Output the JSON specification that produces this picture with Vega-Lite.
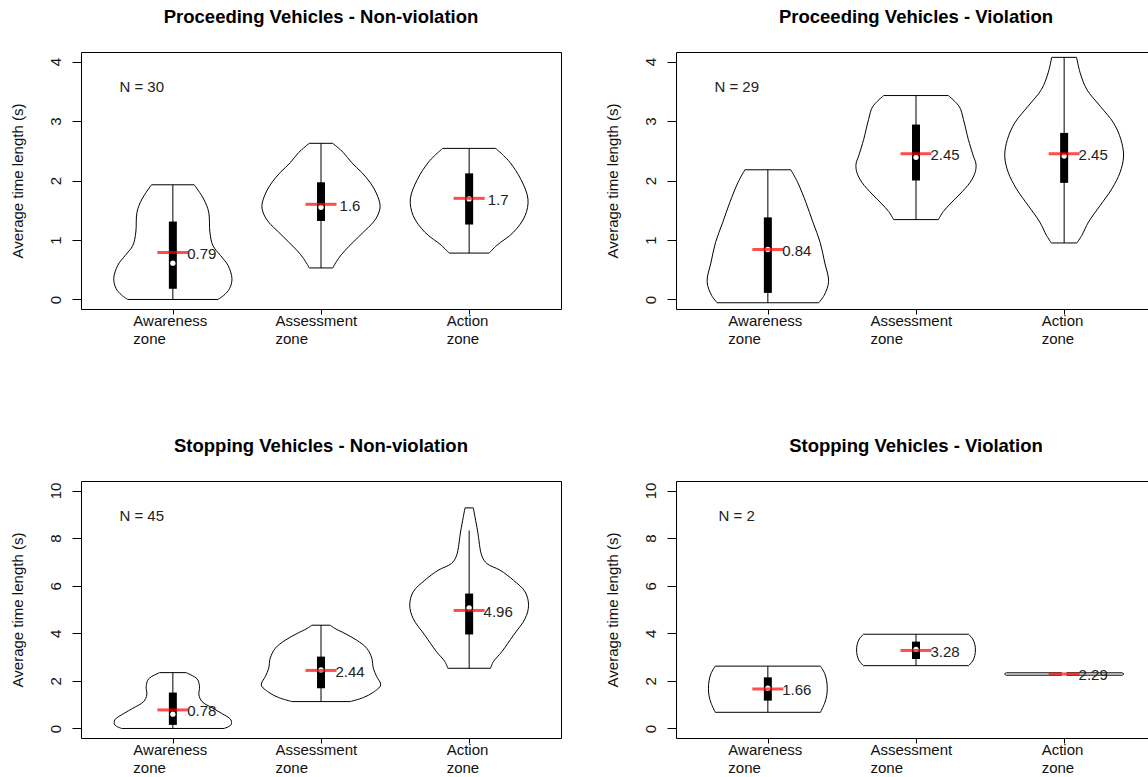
{
"$schema": "https://vega.github.io/schema/vega-lite/v6.json",
"padding": {"left": 9, "top": 7, "right": 0, "bottom": 0},
"columns": 2,
"spacing": {"row": 172, "column": 115},
"bounds": "flush",
"datasets": {
"v": [
{"p":"A","z":1,"t":0,"lo":0.696,"hi":1.304},
{"p":"A","z":1,"t":0.072,"lo":0.655,"hi":1.345},
{"p":"A","z":1,"t":0.184,"lo":0.617,"hi":1.383},
{"p":"A","z":1,"t":0.351,"lo":0.601,"hi":1.399},
{"p":"A","z":1,"t":0.574,"lo":0.628,"hi":1.372},
{"p":"A","z":1,"t":0.741,"lo":0.679,"hi":1.321},
{"p":"A","z":1,"t":0.908,"lo":0.73,"hi":1.27},
{"p":"A","z":1,"t":1.132,"lo":0.75,"hi":1.25},
{"p":"A","z":1,"t":1.466,"lo":0.758,"hi":1.242},
{"p":"A","z":1,"t":1.689,"lo":0.792,"hi":1.208},
{"p":"A","z":1,"t":1.928,"lo":0.856,"hi":1.144},
{"p":"A","z":2,"t":0.53,"lo":1.921,"hi":2.079},
{"p":"A","z":2,"t":0.686,"lo":1.883,"hi":2.117},
{"p":"A","z":2,"t":0.824,"lo":1.838,"hi":2.162},
{"p":"A","z":2,"t":0.965,"lo":1.782,"hi":2.218},
{"p":"A","z":2,"t":1.132,"lo":1.714,"hi":2.286},
{"p":"A","z":2,"t":1.299,"lo":1.647,"hi":2.353},
{"p":"A","z":2,"t":1.438,"lo":1.613,"hi":2.387},
{"p":"A","z":2,"t":1.577,"lo":1.601,"hi":2.399},
{"p":"A","z":2,"t":1.773,"lo":1.624,"hi":2.376},
{"p":"A","z":2,"t":1.968,"lo":1.669,"hi":2.331},
{"p":"A","z":2,"t":2.135,"lo":1.725,"hi":2.275},
{"p":"A","z":2,"t":2.3,"lo":1.793,"hi":2.207},
{"p":"A","z":2,"t":2.47,"lo":1.849,"hi":2.151},
{"p":"A","z":2,"t":2.625,"lo":1.921,"hi":2.079},
{"p":"A","z":3,"t":0.78,"lo":2.865,"hi":3.135},
{"p":"A","z":3,"t":0.91,"lo":2.813,"hi":3.187},
{"p":"A","z":3,"t":1.13,"lo":2.701,"hi":3.299},
{"p":"A","z":3,"t":1.41,"lo":2.622,"hi":3.378},
{"p":"A","z":3,"t":1.69,"lo":2.603,"hi":3.397},
{"p":"A","z":3,"t":2.02,"lo":2.651,"hi":3.349},
{"p":"A","z":3,"t":2.3,"lo":2.723,"hi":3.277},
{"p":"A","z":3,"t":2.42,"lo":2.768,"hi":3.232},
{"p":"A","z":3,"t":2.54,"lo":2.821,"hi":3.179},
{"p":"B","z":1,"t":-0.055,"lo":0.657,"hi":1.343},
{"p":"B","z":1,"t":0.07,"lo":0.62,"hi":1.38},
{"p":"B","z":1,"t":0.3,"lo":0.59,"hi":1.41},
{"p":"B","z":1,"t":0.63,"lo":0.617,"hi":1.383},
{"p":"B","z":1,"t":0.96,"lo":0.647,"hi":1.353},
{"p":"B","z":1,"t":1.3,"lo":0.696,"hi":1.304},
{"p":"B","z":1,"t":1.63,"lo":0.743,"hi":1.257},
{"p":"B","z":1,"t":1.97,"lo":0.799,"hi":1.201},
{"p":"B","z":1,"t":2.18,"lo":0.845,"hi":1.155},
{"p":"B","z":2,"t":1.343,"lo":1.849,"hi":2.151},
{"p":"B","z":2,"t":1.477,"lo":1.816,"hi":2.184},
{"p":"B","z":2,"t":1.605,"lo":1.77,"hi":2.23},
{"p":"B","z":2,"t":1.773,"lo":1.703,"hi":2.297},
{"p":"B","z":2,"t":1.968,"lo":1.635,"hi":2.365},
{"p":"B","z":2,"t":2.135,"lo":1.601,"hi":2.399},
{"p":"B","z":2,"t":2.274,"lo":1.595,"hi":2.405},
{"p":"B","z":2,"t":2.413,"lo":1.613,"hi":2.387},
{"p":"B","z":2,"t":2.692,"lo":1.647,"hi":2.353},
{"p":"B","z":2,"t":3.027,"lo":1.68,"hi":2.32},
{"p":"B","z":2,"t":3.239,"lo":1.707,"hi":2.293},
{"p":"B","z":2,"t":3.428,"lo":1.782,"hi":2.218},
{"p":"B","z":3,"t":0.95,"lo":2.914,"hi":3.086},
{"p":"B","z":3,"t":1.08,"lo":2.88,"hi":3.12},
{"p":"B","z":3,"t":1.3,"lo":2.836,"hi":3.164},
{"p":"B","z":3,"t":1.58,"lo":2.757,"hi":3.243},
{"p":"B","z":3,"t":1.86,"lo":2.678,"hi":3.322},
{"p":"B","z":3,"t":2.14,"lo":2.622,"hi":3.378},
{"p":"B","z":3,"t":2.41,"lo":2.599,"hi":3.401},
{"p":"B","z":3,"t":2.69,"lo":2.617,"hi":3.383},
{"p":"B","z":3,"t":2.97,"lo":2.667,"hi":3.333},
{"p":"B","z":3,"t":3.25,"lo":2.757,"hi":3.243},
{"p":"B","z":3,"t":3.53,"lo":2.847,"hi":3.153},
{"p":"B","z":3,"t":3.81,"lo":2.892,"hi":3.108},
{"p":"B","z":3,"t":4.07,"lo":2.916,"hi":3.084},
{"p":"C","z":1,"t":0,"lo":0.655,"hi":1.345},
{"p":"C","z":1,"t":0.15,"lo":0.608,"hi":1.392},
{"p":"C","z":1,"t":0.36,"lo":0.608,"hi":1.392},
{"p":"C","z":1,"t":0.64,"lo":0.672,"hi":1.328},
{"p":"C","z":1,"t":0.85,"lo":0.73,"hi":1.27},
{"p":"C","z":1,"t":1.13,"lo":0.803,"hi":1.197},
{"p":"C","z":1,"t":1.41,"lo":0.824,"hi":1.176},
{"p":"C","z":1,"t":1.76,"lo":0.82,"hi":1.18},
{"p":"C","z":1,"t":2.08,"lo":0.836,"hi":1.164},
{"p":"C","z":1,"t":2.347,"lo":0.911,"hi":1.089},
{"p":"C","z":2,"t":1.13,"lo":1.804,"hi":2.196},
{"p":"C","z":2,"t":1.3,"lo":1.714,"hi":2.286},
{"p":"C","z":2,"t":1.52,"lo":1.647,"hi":2.353},
{"p":"C","z":2,"t":1.83,"lo":1.597,"hi":2.403},
{"p":"C","z":2,"t":2.18,"lo":1.624,"hi":2.376},
{"p":"C","z":2,"t":2.53,"lo":1.647,"hi":2.353},
{"p":"C","z":2,"t":2.95,"lo":1.657,"hi":2.343},
{"p":"C","z":2,"t":3.37,"lo":1.691,"hi":2.309},
{"p":"C","z":2,"t":3.71,"lo":1.759,"hi":2.241},
{"p":"C","z":2,"t":3.99,"lo":1.838,"hi":2.162},
{"p":"C","z":2,"t":4.2,"lo":1.905,"hi":2.095},
{"p":"C","z":2,"t":4.34,"lo":1.938,"hi":2.062},
{"p":"C","z":3,"t":2.53,"lo":2.856,"hi":3.144},
{"p":"C","z":3,"t":2.81,"lo":2.836,"hi":3.164},
{"p":"C","z":3,"t":3.23,"lo":2.779,"hi":3.221},
{"p":"C","z":3,"t":3.92,"lo":2.701,"hi":3.299},
{"p":"C","z":3,"t":4.62,"lo":2.622,"hi":3.378},
{"p":"C","z":3,"t":5.18,"lo":2.599,"hi":3.401},
{"p":"C","z":3,"t":5.74,"lo":2.622,"hi":3.378},
{"p":"C","z":3,"t":6.23,"lo":2.701,"hi":3.299},
{"p":"C","z":3,"t":6.65,"lo":2.791,"hi":3.209},
{"p":"C","z":3,"t":6.93,"lo":2.88,"hi":3.12},
{"p":"C","z":3,"t":7.25,"lo":2.914,"hi":3.086},
{"p":"C","z":3,"t":8.3,"lo":2.943,"hi":3.057},
{"p":"C","z":3,"t":9.27,"lo":2.972,"hi":3.028},
{"p":"D","z":1,"t":0.68,"lo":0.645,"hi":1.355},
{"p":"D","z":1,"t":1.06,"lo":0.617,"hi":1.383},
{"p":"D","z":1,"t":1.37,"lo":0.603,"hi":1.397},
{"p":"D","z":1,"t":1.69,"lo":0.599,"hi":1.401},
{"p":"D","z":1,"t":2.0,"lo":0.603,"hi":1.397},
{"p":"D","z":1,"t":2.32,"lo":0.617,"hi":1.383},
{"p":"D","z":1,"t":2.62,"lo":0.645,"hi":1.355},
{"p":"D","z":2,"t":2.64,"lo":1.645,"hi":2.355},
{"p":"D","z":2,"t":2.84,"lo":1.617,"hi":2.383},
{"p":"D","z":2,"t":3.07,"lo":1.603,"hi":2.397},
{"p":"D","z":2,"t":3.3,"lo":1.599,"hi":2.401},
{"p":"D","z":2,"t":3.53,"lo":1.603,"hi":2.397},
{"p":"D","z":2,"t":3.76,"lo":1.617,"hi":2.383},
{"p":"D","z":2,"t":3.96,"lo":1.645,"hi":2.355},
{"p":"D","z":3,"t":2.24,"lo":2.61,"hi":3.39},
{"p":"D","z":3,"t":2.29,"lo":2.597,"hi":3.403},
{"p":"D","z":3,"t":2.34,"lo":2.61,"hi":3.39}
],
"s": [
{"p":"A","z":1,"min":0,"q1":0.18,"med":0.61,"q3":1.31,"max":1.928,"mean":0.79,"lab":"0.79"},
{"p":"A","z":2,"min":0.53,"q1":1.32,"med":1.55,"q3":1.97,"max":2.625,"mean":1.6,"lab":"1.6"},
{"p":"A","z":3,"min":0.78,"q1":1.26,"med":1.69,"q3":2.12,"max":2.54,"mean":1.7,"lab":"1.7"},
{"p":"B","z":1,"min":-0.055,"q1":0.11,"med":0.84,"q3":1.38,"max":2.18,"mean":0.84,"lab":"0.84"},
{"p":"B","z":2,"min":1.343,"q1":2.0,"med":2.39,"q3":2.94,"max":3.428,"mean":2.45,"lab":"2.45"},
{"p":"B","z":3,"min":0.95,"q1":1.96,"med":2.41,"q3":2.8,"max":4.07,"mean":2.45,"lab":"2.45"},
{"p":"C","z":1,"min":0,"q1":0.15,"med":0.6,"q3":1.51,"max":2.347,"mean":0.78,"lab":"0.78"},
{"p":"C","z":2,"min":1.13,"q1":1.69,"med":2.46,"q3":3.02,"max":4.34,"mean":2.44,"lab":"2.44"},
{"p":"C","z":3,"min":2.53,"q1":3.95,"med":5.07,"q3":5.67,"max":8.32,"mean":4.96,"lab":"4.96"},
{"p":"D","z":1,"min":0.68,"q1":1.17,"med":1.69,"q3":2.15,"max":2.62,"mean":1.66,"lab":"1.66"},
{"p":"D","z":2,"min":2.64,"q1":2.92,"med":3.32,"q3":3.65,"max":3.96,"mean":3.28,"lab":"3.28"},
{"p":"D","z":3,"min":2.29,"q1":2.29,"med":2.29,"q3":2.29,"max":2.29,"mean":2.29,"lab":"2.29"}
],
"n": [
{"p":"A","x":0.79,"y":3.57,"label":"N = 30"},
{"p":"B","x":0.79,"y":3.57,"label":"N = 29"},
{"p":"C","x":0.79,"y":8.92,"label":"N = 45"},
{"p":"D","x":0.79,"y":8.92,"label":"N = 2"}
]
},
"concat": [
{"width":480,"height":257,"title":{"text":"Proceeding Vehicles - Non-violation"},
"layer":[
{"data":{"name":"v"},"transform":[{"filter":"datum.p==='A'"}],"mark":{"type":"area","orient":"horizontal","interpolate":"catmull-rom","fill":"white","stroke":"black","strokeWidth":1},
"encoding":{"y":{"field":"t","type":"quantitative","scale":{"domain":[-0.16,4.16],"nice":false,"zero":false},"axis":{"values":[0,1,2,3,4],"format":"d","title":"Average time length (s)"}},
"x":{"field":"lo","type":"quantitative","stack":null,"scale":{"domain":[0.38,3.62],"nice":false,"zero":false},"axis":{"values":[1,2,3],"title":null,"labelExpr":"datum.value===1?['Awareness','zone']:datum.value===2?['Assessment','zone']:['Action','zone']","labelOffset":{"condition":[{"test":"datum.value===1","value":-40},{"test":"datum.value===2","value":-46}],"value":-23}}},
"x2":{"field":"hi"},"detail":{"field":"z","type":"nominal"}}},
{"data":{"name":"s"},"transform":[{"filter":"datum.p==='A'"}],"mark":{"type":"rule","color":"black","strokeWidth":1},"encoding":{"x":{"field":"z","type":"quantitative"},"y":{"field":"min","type":"quantitative"},"y2":{"field":"max"}}},
{"data":{"name":"s"},"transform":[{"filter":"datum.p==='A'"}],"mark":{"type":"rule","color":"black","strokeWidth":8},"encoding":{"x":{"field":"z","type":"quantitative"},"y":{"field":"q1","type":"quantitative"},"y2":{"field":"q3"}}},
{"data":{"name":"s"},"transform":[{"filter":"datum.p==='A'"}],"mark":{"type":"point","shape":"circle","filled":true,"color":"white","opacity":1,"size":28},"encoding":{"x":{"field":"z","type":"quantitative"},"y":{"field":"med","type":"quantitative"}}},
{"data":{"name":"s"},"transform":[{"filter":"datum.p==='A'"}],"mark":{"type":"tick","orient":"horizontal","color":"red","size":31,"thickness":3},"encoding":{"x":{"field":"z","type":"quantitative"},"y":{"field":"mean","type":"quantitative"}}},
{"data":{"name":"s"},"transform":[{"filter":"datum.p==='A'"}],"mark":{"type":"text","align":"center","baseline":"middle","dx":29,"dy":1.5,"fontSize":15,"color":"#222"},"encoding":{"x":{"field":"z","type":"quantitative"},"y":{"field":"mean","type":"quantitative"},"text":{"field":"lab"}}},
{"data":{"name":"n"},"transform":[{"filter":"datum.p==='A'"}],"mark":{"type":"text","align":"center","baseline":"middle","fontSize":15,"color":"#222"},"encoding":{"x":{"field":"x","type":"quantitative"},"y":{"field":"y","type":"quantitative"},"text":{"field":"label"}}}
]},
{"width":480,"height":257,"title":{"text":"Proceeding Vehicles - Violation"},
"layer":[
{"data":{"name":"v"},"transform":[{"filter":"datum.p==='B'"}],"mark":{"type":"area","orient":"horizontal","interpolate":"catmull-rom","fill":"white","stroke":"black","strokeWidth":1},
"encoding":{"y":{"field":"t","type":"quantitative","scale":{"domain":[-0.16,4.16],"nice":false,"zero":false},"axis":{"values":[0,1,2,3,4],"format":"d","title":"Average time length (s)"}},
"x":{"field":"lo","type":"quantitative","stack":null,"scale":{"domain":[0.38,3.62],"nice":false,"zero":false},"axis":{"values":[1,2,3],"title":null,"labelExpr":"datum.value===1?['Awareness','zone']:datum.value===2?['Assessment','zone']:['Action','zone']","labelOffset":{"condition":[{"test":"datum.value===1","value":-40},{"test":"datum.value===2","value":-46}],"value":-23}}},
"x2":{"field":"hi"},"detail":{"field":"z","type":"nominal"}}},
{"data":{"name":"s"},"transform":[{"filter":"datum.p==='B'"}],"mark":{"type":"rule","color":"black","strokeWidth":1},"encoding":{"x":{"field":"z","type":"quantitative"},"y":{"field":"min","type":"quantitative"},"y2":{"field":"max"}}},
{"data":{"name":"s"},"transform":[{"filter":"datum.p==='B'"}],"mark":{"type":"rule","color":"black","strokeWidth":8},"encoding":{"x":{"field":"z","type":"quantitative"},"y":{"field":"q1","type":"quantitative"},"y2":{"field":"q3"}}},
{"data":{"name":"s"},"transform":[{"filter":"datum.p==='B'"}],"mark":{"type":"point","shape":"circle","filled":true,"color":"white","opacity":1,"size":28},"encoding":{"x":{"field":"z","type":"quantitative"},"y":{"field":"med","type":"quantitative"}}},
{"data":{"name":"s"},"transform":[{"filter":"datum.p==='B'"}],"mark":{"type":"tick","orient":"horizontal","color":"red","size":31,"thickness":3},"encoding":{"x":{"field":"z","type":"quantitative"},"y":{"field":"mean","type":"quantitative"}}},
{"data":{"name":"s"},"transform":[{"filter":"datum.p==='B'"}],"mark":{"type":"text","align":"center","baseline":"middle","dx":29,"dy":1.5,"fontSize":15,"color":"#222"},"encoding":{"x":{"field":"z","type":"quantitative"},"y":{"field":"mean","type":"quantitative"},"text":{"field":"lab"}}},
{"data":{"name":"n"},"transform":[{"filter":"datum.p==='B'"}],"mark":{"type":"text","align":"center","baseline":"middle","fontSize":15,"color":"#222"},"encoding":{"x":{"field":"x","type":"quantitative"},"y":{"field":"y","type":"quantitative"},"text":{"field":"label"}}}
]},
{"width":480,"height":257,"title":{"text":"Stopping Vehicles - Non-violation"},
"layer":[
{"data":{"name":"v"},"transform":[{"filter":"datum.p==='C'"}],"mark":{"type":"area","orient":"horizontal","interpolate":"catmull-rom","fill":"white","stroke":"black","strokeWidth":1},
"encoding":{"y":{"field":"t","type":"quantitative","scale":{"domain":[-0.4,10.4],"nice":false,"zero":false},"axis":{"values":[0,2,4,6,8,10],"format":"d","title":"Average time length (s)"}},
"x":{"field":"lo","type":"quantitative","stack":null,"scale":{"domain":[0.38,3.62],"nice":false,"zero":false},"axis":{"values":[1,2,3],"title":null,"labelExpr":"datum.value===1?['Awareness','zone']:datum.value===2?['Assessment','zone']:['Action','zone']","labelOffset":{"condition":[{"test":"datum.value===1","value":-40},{"test":"datum.value===2","value":-46}],"value":-23}}},
"x2":{"field":"hi"},"detail":{"field":"z","type":"nominal"}}},
{"data":{"name":"s"},"transform":[{"filter":"datum.p==='C'"}],"mark":{"type":"rule","color":"black","strokeWidth":1},"encoding":{"x":{"field":"z","type":"quantitative"},"y":{"field":"min","type":"quantitative"},"y2":{"field":"max"}}},
{"data":{"name":"s"},"transform":[{"filter":"datum.p==='C'"}],"mark":{"type":"rule","color":"black","strokeWidth":8},"encoding":{"x":{"field":"z","type":"quantitative"},"y":{"field":"q1","type":"quantitative"},"y2":{"field":"q3"}}},
{"data":{"name":"s"},"transform":[{"filter":"datum.p==='C'"}],"mark":{"type":"point","shape":"circle","filled":true,"color":"white","opacity":1,"size":28},"encoding":{"x":{"field":"z","type":"quantitative"},"y":{"field":"med","type":"quantitative"}}},
{"data":{"name":"s"},"transform":[{"filter":"datum.p==='C'"}],"mark":{"type":"tick","orient":"horizontal","color":"red","size":31,"thickness":3},"encoding":{"x":{"field":"z","type":"quantitative"},"y":{"field":"mean","type":"quantitative"}}},
{"data":{"name":"s"},"transform":[{"filter":"datum.p==='C'"}],"mark":{"type":"text","align":"center","baseline":"middle","dx":29,"dy":1.5,"fontSize":15,"color":"#222"},"encoding":{"x":{"field":"z","type":"quantitative"},"y":{"field":"mean","type":"quantitative"},"text":{"field":"lab"}}},
{"data":{"name":"n"},"transform":[{"filter":"datum.p==='C'"}],"mark":{"type":"text","align":"center","baseline":"middle","fontSize":15,"color":"#222"},"encoding":{"x":{"field":"x","type":"quantitative"},"y":{"field":"y","type":"quantitative"},"text":{"field":"label"}}}
]},
{"width":480,"height":257,"title":{"text":"Stopping Vehicles - Violation"},
"layer":[
{"data":{"name":"v"},"transform":[{"filter":"datum.p==='D'"}],"mark":{"type":"area","orient":"horizontal","interpolate":"catmull-rom","fill":"white","stroke":"black","strokeWidth":1},
"encoding":{"y":{"field":"t","type":"quantitative","scale":{"domain":[-0.4,10.4],"nice":false,"zero":false},"axis":{"values":[0,2,4,6,8,10],"format":"d","title":"Average time length (s)"}},
"x":{"field":"lo","type":"quantitative","stack":null,"scale":{"domain":[0.38,3.62],"nice":false,"zero":false},"axis":{"values":[1,2,3],"title":null,"labelExpr":"datum.value===1?['Awareness','zone']:datum.value===2?['Assessment','zone']:['Action','zone']","labelOffset":{"condition":[{"test":"datum.value===1","value":-40},{"test":"datum.value===2","value":-46}],"value":-23}}},
"x2":{"field":"hi"},"detail":{"field":"z","type":"nominal"}}},
{"data":{"name":"s"},"transform":[{"filter":"datum.p==='D'"}],"mark":{"type":"rule","color":"black","strokeWidth":1},"encoding":{"x":{"field":"z","type":"quantitative"},"y":{"field":"min","type":"quantitative"},"y2":{"field":"max"}}},
{"data":{"name":"s"},"transform":[{"filter":"datum.p==='D'"}],"mark":{"type":"rule","color":"black","strokeWidth":8},"encoding":{"x":{"field":"z","type":"quantitative"},"y":{"field":"q1","type":"quantitative"},"y2":{"field":"q3"}}},
{"data":{"name":"s"},"transform":[{"filter":"datum.p==='D'"}],"mark":{"type":"point","shape":"circle","filled":true,"color":"white","opacity":1,"size":28},"encoding":{"x":{"field":"z","type":"quantitative"},"y":{"field":"med","type":"quantitative"}}},
{"data":{"name":"s"},"transform":[{"filter":"datum.p==='D'"}],"mark":{"type":"tick","orient":"horizontal","color":"red","size":31,"thickness":3},"encoding":{"x":{"field":"z","type":"quantitative"},"y":{"field":"mean","type":"quantitative"}}},
{"data":{"name":"s"},"transform":[{"filter":"datum.p==='D'"}],"mark":{"type":"text","align":"center","baseline":"middle","dx":29,"dy":1.5,"fontSize":15,"color":"#222"},"encoding":{"x":{"field":"z","type":"quantitative"},"y":{"field":"mean","type":"quantitative"},"text":{"field":"lab"}}},
{"data":{"name":"n"},"transform":[{"filter":"datum.p==='D'"}],"mark":{"type":"text","align":"center","baseline":"middle","fontSize":15,"color":"#222"},"encoding":{"x":{"field":"x","type":"quantitative"},"y":{"field":"y","type":"quantitative"},"text":{"field":"label"}}}
]}
],
"config": {
"font": "Liberation Sans",
"background": "white",
"view": {"stroke": "black", "strokeWidth": 1},
"axis": {"domain": false, "grid": false, "tickColor": "black", "labelColor": "#111", "titleColor": "#111", "labelFont": "Liberation Sans", "labelFontSize": 15, "titleFont": "Liberation Sans", "titleFontSize": 15, "titleFontWeight": "normal"},
"axisY": {"labelAngle": 270, "labelAlign": "center", "labelBaseline": "bottom", "tickSize": 9, "labelPadding": 9, "titlePadding": 23},
"axisX": {"tickSize": 5, "labelPadding": -1, "labelLineHeight": 18, "labelAlign": "left", "labelBaseline": "top"},
"title": {"font": "Liberation Sans", "fontSize": 18.5, "fontWeight": "bold", "color": "black", "anchor": "middle", "frame": "group", "offset": 26}
}
}
